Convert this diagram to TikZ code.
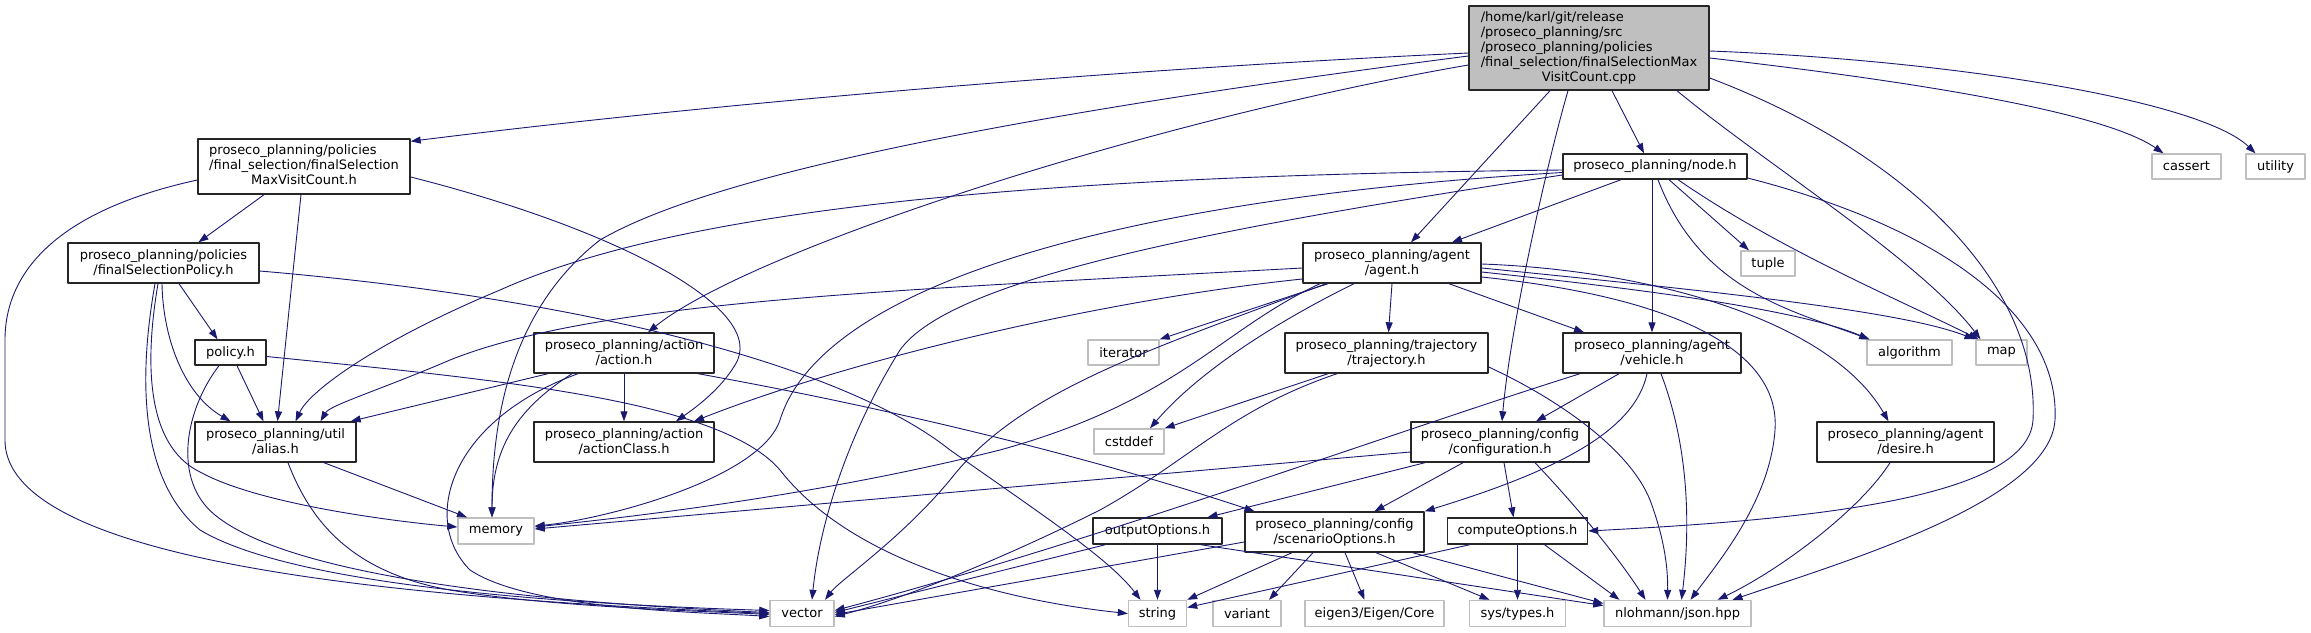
\documentclass[tikz,border=0pt]{standalone}
\usepackage{fontspec}
\setmainfont{DejaVu Sans}
\usetikzlibrary{arrows.meta}
\definecolor{edgeblue}{HTML}{191970}
\definecolor{extgray}{HTML}{BFBFBF}
\begin{document}
\begin{tikzpicture}[x=1pt, y=-1pt, line join=round, >={Triangle[length=10pt,width=7pt]},
	box/.style={draw=black!85, line width=1.4pt, fill=white, inner sep=0pt, align=center, font=\fontsize{13pt}{15pt}\selectfont},
	ext/.style={box, draw=extgray},
	topfile/.style={box, fill=extgray},
	inc/.style={->, draw=edgeblue, line width=0.9pt}]
	\useasboundingbox (0,0) rectangle (2311,632);
	% files of the project
	\node[topfile, minimum width=240pt, minimum height=84pt] (root) at (1589,48) {\begin{tabular}{@{}l@{}}/home/karl/git/release\\/proseco\_planning/src\\/proseco\_planning/policies\\/final\_selection/finalSelectionMax\\\multicolumn{1}{@{}c@{}}{VisitCount.cpp}\end{tabular}};
	\node[box, minimum width=212pt, minimum height=55pt] (mvc) at (304,166.5) {\begin{tabular}{@{}l@{}}proseco\_planning/policies\\/final\_selection/finalSelection\\\multicolumn{1}{@{}c@{}}{MaxVisitCount.h}\end{tabular}};
	\node[box, minimum width=191pt, minimum height=40pt] (fsp) at (163.5,263) {proseco\_planning/policies\\/finalSelectionPolicy.h};
	\node[box, minimum width=71pt, minimum height=25pt] (policy) at (230.5,352.5) {policy.h};
	\node[box, minimum width=161pt, minimum height=40pt] (alias) at (275.5,442) {proseco\_planning/util\\/alias.h};
	\node[box, minimum width=180pt, minimum height=40pt] (action) at (624,353) {proseco\_planning/action\\/action.h};
	\node[box, minimum width=180pt, minimum height=40pt] (actionclass) at (624,442) {proseco\_planning/action\\/actionClass.h};
	\node[box, minimum width=184pt, minimum height=25pt] (node) at (1655,166.5) {proseco\_planning/node.h};
	\node[box, minimum width=178pt, minimum height=40pt] (agent) at (1392,263) {proseco\_planning/agent\\/agent.h};
	\node[box, minimum width=203pt, minimum height=40pt] (trajectory) at (1386.5,353) {proseco\_planning/trajectory\\/trajectory.h};
	\node[box, minimum width=178pt, minimum height=40pt] (vehicle) at (1652,353) {proseco\_planning/agent\\/vehicle.h};
	\node[box, minimum width=178pt, minimum height=40pt] (configuration) at (1500,442) {proseco\_planning/config\\/configuration.h};
	\node[box, minimum width=177pt, minimum height=40pt] (desire) at (1905.5,442) {proseco\_planning/agent\\/desire.h};
	\node[box, minimum width=129pt, minimum height=26pt] (output) at (1157.5,531) {outputOptions.h};
	\node[box, minimum width=179pt, minimum height=40pt] (scenario) at (1334.5,532) {proseco\_planning/config\\/scenarioOptions.h};
	\node[box, minimum width=140pt, minimum height=26pt] (compute) at (1517.5,531) {computeOptions.h};
	% system and external headers
	\node[ext, minimum width=76pt, minimum height=26pt] (memory) at (496,531) {memory};
	\node[ext, minimum width=64pt, minimum height=26pt] (vector) at (802,613.5) {vector};
	\node[ext, minimum width=69pt, minimum height=25pt] (cassert) at (2186.5,166.5) {cassert};
	\node[ext, minimum width=59pt, minimum height=25pt] (utility) at (2275.5,166.5) {utility};
	\node[ext, minimum width=54pt, minimum height=25pt] (tuple) at (1768,263.5) {tuple};
	\node[ext, minimum width=71pt, minimum height=25pt] (iterator) at (1123.5,352.5) {iterator};
	\node[ext, minimum width=85pt, minimum height=25pt] (algorithm) at (1909.5,352.5) {algorithm};
	\node[ext, minimum width=51pt, minimum height=25pt] (map) at (2001.5,352.5) {map};
	\node[ext, minimum width=70pt, minimum height=25pt] (cstddef) at (1129,441.5) {cstddef};
	\node[ext, minimum width=58pt, minimum height=26pt] (string) at (1157.5,613.5) {string};
	\node[ext, minimum width=68pt, minimum height=26pt] (variant) at (1247,613.5) {variant};
	\node[ext, minimum width=139pt, minimum height=26pt] (eigen) at (1374.5,613.5) {eigen3/Eigen/Core};
	\node[ext, minimum width=96pt, minimum height=26pt] (systypes) at (1517.5,613.5) {sys/types.h};
	\node[ext, minimum width=147pt, minimum height=26pt] (json) at (1677.5,613.5) {nlohmann/json.hpp};
	% includes of the cpp file
	\draw[inc] ([yshift=-5pt]root.west) .. controls (1100,70) and (700,105) .. ([yshift=-3pt]mvc.north east);
	\draw[inc] ([yshift=-8pt]root.west) .. controls (1050,110) and (720,170) .. (600,240) .. controls (510,310) and (492,420) .. ([xshift=-4pt]memory.north);
	\draw[inc] ([yshift=-17pt]root.west) .. controls (1150,120) and (750,250) .. ([xshift=24pt]action.north);
	\draw[inc] ([xshift=-39pt]root.south) -- ([xshift=19pt]agent.north);
	\draw[inc] ([xshift=-21pt]root.south) .. controls (1545,170) and (1510,330) .. ([xshift=2pt]configuration.north);
	\draw[inc] ([xshift=23pt]root.south) -- ([xshift=-11pt]node.north);
	\draw[inc] ([xshift=88pt]root.south) .. controls (1760,160) and (1920,260) .. ([xshift=-21pt]map.north);
	\draw[inc] ([yshift=-30pt]root.east) .. controls (1900,150) and (2040,280) .. (2033,420) .. controls (2028,500) and (1800,520) .. (compute.east);
	\draw[inc] ([yshift=-10pt]root.east) .. controls (1900,80) and (2100,110) .. ([xshift=-23pt]cassert.north);
	\draw[inc] ([yshift=-3pt]root.east) .. controls (1950,60) and (2200,100) .. ([xshift=-20pt]utility.north);
	% policies
	\draw[inc] ([xshift=-40pt]mvc.south) -- ([xshift=35pt]fsp.north);
	\draw[inc] ([xshift=-3pt]mvc.south) -- ([xshift=2pt]alias.north);
	\draw[inc] ([yshift=-10.5pt]mvc.east) .. controls (620,230) and (770,310) .. (735,365) .. controls (720,390) and (695,408) .. ([xshift=52pt]actionclass.north);
	\draw[inc] ([yshift=-13.5pt]mvc.west) .. controls (60,210) and (5,270) .. (5,340) -- (5,440) .. controls (5,570) and (450,600) .. (vector.west);
	\draw[inc] ([xshift=15.5pt]fsp.south) -- ([xshift=-13pt]policy.north);
	\draw[inc] ([xshift=-1.5pt]fsp.south) .. controls (163,340) and (185,395) .. ([xshift=-45pt]alias.north);
	\draw[inc] ([xshift=-5.5pt]fsp.south) .. controls (145,360) and (145,445) .. (200,472) .. controls (260,505) and (400,522) .. ([yshift=4pt]memory.west);
	\draw[inc] ([xshift=-8.5pt]fsp.south) .. controls (138,380) and (140,480) .. (200,530) .. controls (300,590) and (600,605) .. ([yshift=3pt]vector.west);
	\draw[inc] ([yshift=-8pt]fsp.east) .. controls (600,300) and (850,370) .. (950,450) .. controls (1050,520) and (1110,560) .. ([xshift=-17pt]string.north);
	\draw[inc] ([xshift=6.5pt]policy.south) -- ([xshift=-12pt]alias.north);
	\draw[inc] ([xshift=-11.5pt]policy.south) .. controls (185,410) and (172,480) .. (215,515) .. controls (300,585) and (600,605) .. ([yshift=1pt]vector.west);
	\draw[inc] ([yshift=-4pt]policy.east) .. controls (500,380) and (720,400) .. (780,470) .. controls (850,560) and (1000,600) .. (string.west);
	\draw[inc] ([xshift=48.5pt]alias.south) -- ([xshift=-29pt]memory.north);
	\draw[inc] ([xshift=12.5pt]alias.south) .. controls (310,520) and (350,572) .. (450,590) .. controls (550,607) and (700,611) .. ([yshift=-1pt]vector.west);
	% action
	\draw[inc] (action.south) -- (actionclass.north);
	\draw[inc] ([xshift=-76pt]action.south) -- ([xshift=-6pt]alias.north east);
	\draw[inc] ([xshift=-52pt]action.south) .. controls (515,410) and (492,450) .. ([xshift=-4pt]memory.north);
	\draw[inc] ([xshift=-46pt]action.south) .. controls (450,420) and (420,520) .. (470,570) .. controls (530,610) and (700,612) .. ([yshift=-3pt]vector.west);
	\draw[inc] ([xshift=74pt]action.south) .. controls (900,410) and (1100,460) .. ([xshift=-80pt]scenario.north);
	% agent
	\draw[inc] ([yshift=-5pt]agent.west) .. controls (900,290) and (600,300) .. (450,360) .. controls (380,390) and (330,405) .. ([xshift=45pt]alias.north);
	\draw[inc] ([yshift=-16pt]agent.west) .. controls (1100,300) and (850,360) .. ([xshift=70pt]actionclass.north);
	\draw[inc] ([xshift=-72pt]agent.south) .. controls (1220,330) and (1180,400) .. (1000,450) .. controls (800,500) and (600,520) .. ([yshift=4pt]memory.east);
	\draw[inc] ([xshift=-66pt]agent.south) .. controls (1150,350) and (1020,390) .. (950,480) .. controls (900,540) and (840,580) .. ([xshift=23pt]vector.north);
	\draw[inc] ([xshift=-64pt]agent.south) -- (iterator.north east);
	\draw[inc] ([xshift=-38pt]agent.south) .. controls (1280,320) and (1200,370) .. ([xshift=21pt]cstddef.north);
	\draw[inc] (agent.south) -- ([xshift=2pt]trajectory.north);
	\draw[inc] ([xshift=57pt]agent.south) -- ([xshift=-68pt]vehicle.north);
	\draw[inc] ([yshift=-9pt]agent.east) .. controls (1650,290) and (1800,310) .. ([xshift=3pt]algorithm.north west);
	\draw[inc] ([yshift=-5pt]agent.east) .. controls (1700,290) and (1900,310) .. ([xshift=-27pt]map.north);
	\draw[inc] ([yshift=-1pt]agent.east) .. controls (1650,270) and (1830,320) .. ([xshift=-17pt]desire.north);
	\draw[inc] ([yshift=-14pt]agent.east) .. controls (1700,300) and (1780,360) .. (1775,430) .. controls (1770,500) and (1720,560) .. ([xshift=13pt]json.north);
	% node
	\draw[inc] ([yshift=-3.5pt]node.west) .. controls (1100,175) and (700,200) .. (500,290) .. controls (380,340) and (310,390) .. ([xshift=20pt]alias.north);
	\draw[inc] ([yshift=-6pt]node.west) .. controls (1100,200) and (820,290) .. (780,420) .. controls (760,480) and (600,520) .. ([yshift=5pt]memory.east);
	\draw[inc] ([yshift=-8.5pt]node.west) .. controls (1200,230) and (950,280) .. (900,350) .. controls (850,430) and (820,520) .. ([xshift=10pt]vector.north);
	\draw[inc] ([xshift=-34pt]node.south) -- ([xshift=60pt]agent.north);
	\draw[inc] ([xshift=-3pt]node.south) -- (vehicle.north);
	\draw[inc] ([xshift=14pt]node.south) -- ([xshift=-19pt]tuple.north);
	\draw[inc] ([xshift=3pt]node.south) .. controls (1700,290) and (1790,310) .. ([xshift=3pt]algorithm.north west);
	\draw[inc] ([xshift=23pt]node.south) .. controls (1780,250) and (1900,300) .. ([xshift=-23pt]map.north);
	\draw[inc] ([yshift=-11.5pt]node.east) .. controls (1950,230) and (2060,320) .. (2055,420) .. controls (2050,500) and (1850,560) .. ([xshift=55pt]json.north);
	% trajectory, vehicle, desire
	\draw[inc] ([xshift=-58.5pt]trajectory.south) -- (cstddef.north east);
	\draw[inc] ([xshift=-49.5pt]trajectory.south) .. controls (1230,410) and (1190,460) .. (1100,510) .. controls (1000,560) and (900,600) .. ([yshift=-3pt]vector.east);
	\draw[inc] ([yshift=-14pt]trajectory.east) .. controls (1560,400) and (1630,450) .. (1650,500) .. controls (1665,540) and (1668,570) .. ([xshift=-10pt]json.north);
	\draw[inc] ([xshift=-33pt]vehicle.south) -- ([xshift=36pt]configuration.north);
	\draw[inc] ([xshift=-5pt]vehicle.south) .. controls (1635,430) and (1560,470) .. (scenario.north east);
	\draw[inc] ([xshift=9pt]vehicle.south) .. controls (1690,450) and (1690,530) .. ([xshift=4pt]json.north);
	\draw[inc] ([xshift=-72pt]vehicle.south) .. controls (1400,430) and (1100,540) .. ([yshift=3pt]vector.east);
	\draw[inc] ([xshift=-15.5pt]desire.south) .. controls (1860,510) and (1780,570) .. ([xshift=40pt]json.north);
	% config
	\draw[inc] ([yshift=-10pt]configuration.west) -- ([yshift=2pt]memory.east);
	\draw[inc] ([xshift=-75pt]configuration.south) -- ([xshift=50pt]output.north);
	\draw[inc] ([xshift=-37pt]configuration.south) -- ([xshift=40pt]scenario.north);
	\draw[inc] ([xshift=4pt]configuration.south) -- ([xshift=-4pt]compute.north);
	\draw[inc] ([xshift=35pt]configuration.south) .. controls (1580,510) and (1620,560) .. ([xshift=-32pt]json.north);
	\draw[inc] ([xshift=13pt]output.south west) -- ([yshift=1pt]vector.east);
	\draw[inc] (output.south) -- (string.north);
	\draw[inc] ([xshift=-22pt]output.south east) -- ([yshift=8pt]json.west);
	\draw[inc] ([yshift=-10pt]scenario.west) -- ([yshift=-1pt]vector.east);
	\draw[inc] ([xshift=-42.5pt]scenario.south) -- (string.north east);
	\draw[inc] ([xshift=-21.5pt]scenario.south) -- ([xshift=22pt]variant.north);
	\draw[inc] ([xshift=10.5pt]scenario.south) -- ([xshift=-10pt]eigen.north);
	\draw[inc] ([xshift=41.5pt]scenario.south) -- ([xshift=-28pt]systypes.north);
	\draw[inc] ([xshift=-12pt]scenario.south east) -- ([yshift=10pt]json.west);
	\draw[inc] ([xshift=23pt]compute.south west) -- ([yshift=6pt]string.east);
	\draw[inc] (compute.south) -- (systypes.north);
	\draw[inc] ([xshift=27pt]compute.south) -- ([xshift=-58pt]json.north);
\end{tikzpicture}
\end{document}
